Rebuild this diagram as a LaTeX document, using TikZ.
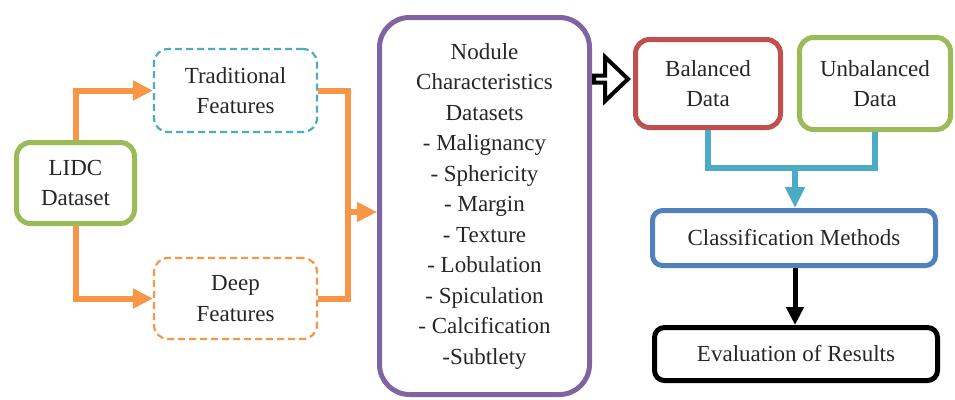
\documentclass[tikz,border=0pt]{standalone}
\usepackage{fontspec}
\newfontfamily\tnr{Liberation Serif}
\usetikzlibrary{arrows.meta}
\definecolor{cgreen}{HTML}{9BBB59}
\definecolor{corange}{HTML}{F79646}
\definecolor{ccyan}{HTML}{4BACC6}
\definecolor{cpurple}{HTML}{8064A2}
\definecolor{cred}{HTML}{C0504D}
\definecolor{cblue}{HTML}{4F81BD}
\definecolor{ctext}{HTML}{262626}
\tikzset{
  box/.style={rounded corners=#1, align=center, inner sep=0pt, text=ctext,
    font=\tnr\fontsize{23}{30.5}\selectfont},
  box/.default=14pt,
  orangeline/.style={draw=corange, line width=6pt},
  orangearrow/.style={orangeline, -{Triangle[length=20pt,width=19pt]}},
  cyanline/.style={draw=ccyan, line width=6pt},
}
\begin{document}
\begin{tikzpicture}[x=1pt,y=-1pt]
\useasboundingbox (0,0) rectangle (955,399);
% nodes
\node[box, draw=cgreen, line width=5pt, minimum width=118pt, minimum height=81pt] (lidc) at (75.5,183) {LIDC\\Dataset};
\node[box, draw=ccyan, dashed, dash pattern=on 7pt off 4pt, line width=2.2pt, minimum width=163pt, minimum height=83pt] (trad) at (235.5,90.5) {Traditional\\Features};
\node[box, draw=corange, dashed, dash pattern=on 7pt off 4pt, line width=2.2pt, minimum width=163pt, minimum height=81pt] (deep) at (235.5,298.5) {Deep\\Features};
\node[box=30pt, draw=cpurple, line width=5pt, minimum width=210pt, minimum height=377pt] (nod) at (484.5,206) {Nodule\\Characteristics\\Datasets\\- Malignancy\\- Sphericity\\- Margin\\- Texture\\- Lobulation\\- Spiculation\\- Calcification\\-Subtlety};
\node[box, draw=cred, line width=5pt, minimum width=145pt, minimum height=88pt] (bal) at (708,83.5) {Balanced\\Data};
\node[box, draw=cgreen, line width=5pt, minimum width=151pt, minimum height=92pt] (unbal) at (875,83.5) {Unbalanced\\Data};
\node[box=10pt, draw=cblue, line width=5pt, minimum width=283pt, minimum height=55pt] (cls) at (794,238) {Classification Methods};
\node[box=10pt, draw=black, line width=5pt, minimum width=283pt, minimum height=53pt] (eval) at (796,354) {Evaluation of Results};
% orange connectors
\draw[orangearrow] (lidc.north) |- (trad.west);
\draw[orangearrow] (lidc.south) |- (deep.west);
\coordinate (jn) at (348,212);
\draw[orangeline] (trad.east) -| (jn) |- (deep.east);
\draw[orangearrow] (jn) -- (jn -| nod.west);
% hollow arrow
\draw[line width=4pt, fill=white, line join=miter] (594,75.5) -- (605,75.5) -- (605,57) -- (628,79) -- (605,101) -- (605,82.5) -- (594,82.5) -- cycle;
% cyan connectors
\coordinate (cj) at (795,168);
\draw[cyanline] (bal.south) |- (cj) -| (unbal.south);
\draw[cyanline, -{Triangle[length=21pt,width=19pt]}] (cj) -- (cj |- cls.north);
% black arrow
\draw[line width=5pt, -{Triangle[length=18pt,width=17pt]}] (cls.south -| 795,0) -- (eval.north -| 795,0);
\end{tikzpicture}
\end{document}
